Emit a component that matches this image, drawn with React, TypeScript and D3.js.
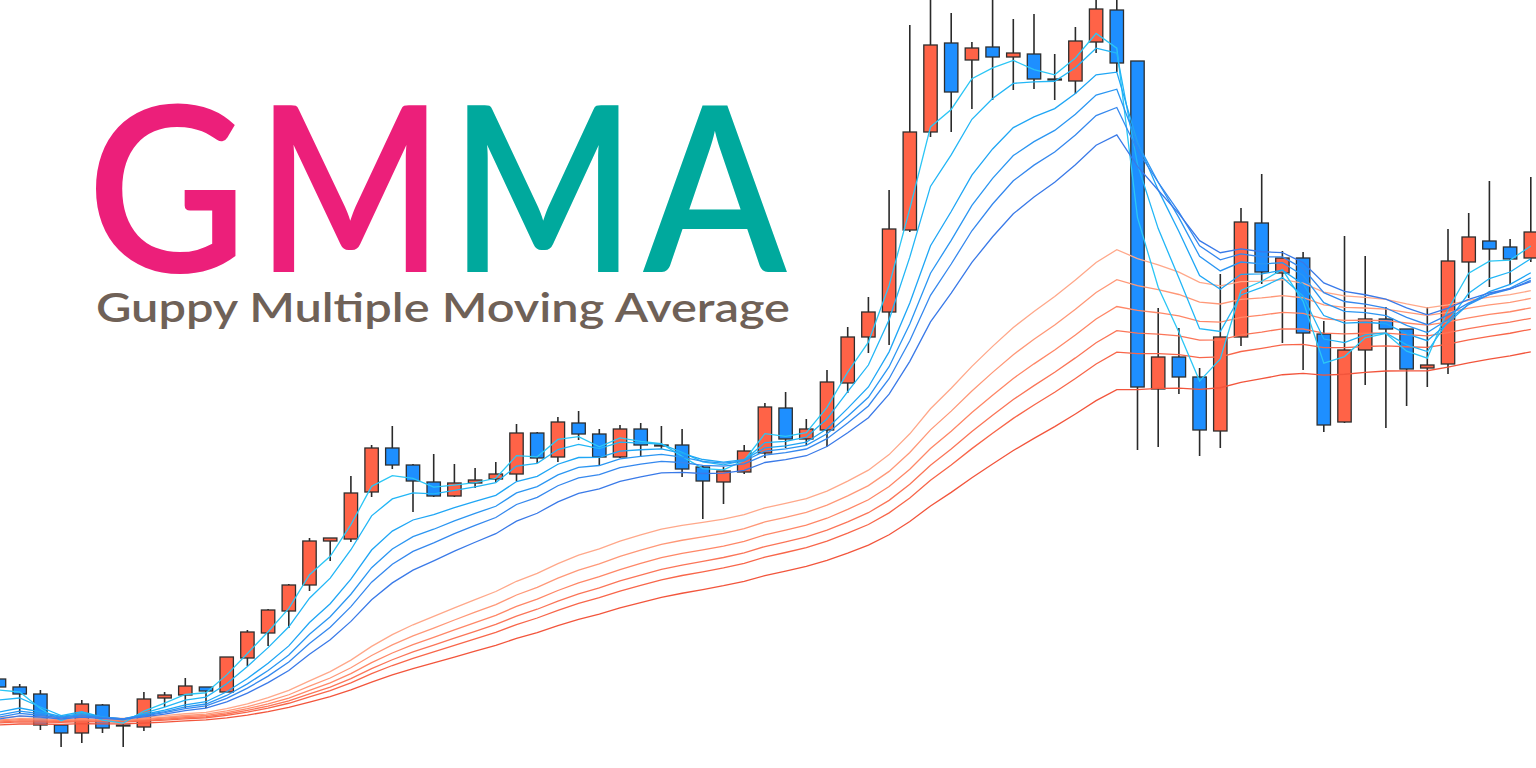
import React from "react";
import * as d3 from "d3";

// Candle prices (arbitrary price units)
const openP = [89,81,74,43,35,63,43,41,70,73,81,76,110,135,157,183,227,229,276,320,303,286,272,285,289,294,335,311,345,334,311,339,323,323,301,286,296,315,360,329,338,385,431,456,538,636,725,708,721,711,714,689,687,726,758,707,379,411,391,337,431,545,495,510,434,346,418,449,439,400,404,506,527,521,510];
const highP = [92,84,78,44,68,64,44,76,76,90,81,111,138,159,184,230,230,292,323,342,304,314,304,300,306,344,336,351,357,339,343,345,342,339,302,301,323,365,376,349,398,441,471,578,743,773,755,726,773,749,754,714,741,773,773,707,460,440,400,494,560,594,517,516,447,532,512,461,439,461,539,555,587,529,591];
const lowP = [78,55,38,21,25,35,21,37,61,60,60,76,102,122,140,177,207,226,271,299,256,271,271,280,286,287,305,306,328,302,310,311,319,291,249,264,294,310,320,323,321,375,415,423,536,631,636,659,668,678,679,668,674,715,696,318,321,374,312,320,422,484,425,398,336,345,383,340,362,381,394,470,481,483,506];
const closeP = [81,74,43,35,64,40,42,69,73,82,77,111,136,158,183,227,230,275,320,303,287,272,285,288,294,335,310,346,334,311,339,323,322,299,287,297,317,361,329,339,386,431,456,539,636,723,676,720,711,715,689,688,727,759,705,381,411,391,338,431,546,496,510,435,343,418,449,439,399,403,507,531,519,509,536];

// GMMA: short and long EMA periods, with their values at the first visible bar
const shortPeriods = [3, 5, 8, 10, 12, 15];
const longPeriods = [30, 35, 40, 45, 50, 60];
const shortSeeds = [78, 68, 56, 53, 51, 49];
const longSeeds = [50, 48, 47, 46, 45, 43];

const shortColors = ["#2cc6f5", "#22b6f6", "#1fa6f5", "#2b96f2", "#3588ee", "#3a7ae8"];
const longColors = ["#ffa88a", "#ff9878", "#ff8767", "#fb7558", "#f8664a", "#f2553c"];

const titleBig = [
  { ch: "G", color: "#ec1f7a" },
  { ch: "M", color: "#ec1f7a" },
  { ch: "M", color: "#00a99d" },
  { ch: "A", color: "#00a99d" },
];
const subtitle = "Guppy Multiple Moving Average";

const W = 1536;
const H = 768;

function ema(values: number[], period: number, seed: number): number[] {
  const k = 2 / (period + 1);
  const out: number[] = [];
  let e = seed;
  values.forEach((v, i) => {
    if (i > 0) e = e + k * (v - e);
    out.push(e);
  });
  return out;
}

export default function App() {
  const n = closeP.length;
  const x = d3.scaleLinear().domain([0, n - 1]).range([-1, 1530.8]);
  const y = d3.scaleLinear().domain([0, 768]).range([H, 0]);
  const bodyW = 13.4;

  const line = d3
    .line<number>()
    .x((_, i) => x(i))
    .y((d) => y(d))
    .curve(d3.curveLinear);

  const shortLines = shortPeriods.map((p, k) => ema(closeP, p, shortSeeds[k]));
  const longLines = longPeriods.map((p, k) => ema(closeP, p, longSeeds[k]));

  // big title letter placement (centers and horizontal squeeze)
  const letterCx = [167, 350, 543, 715];
  const letterSx = [0.95, 0.86, 0.85, 0.9];

  return (
    <svg
      width={W}
      height={H}
      viewBox={`0 0 ${W} ${H}`}
      style={{ position: "absolute", left: 0, top: 0, display: "block", background: "#fff" }}
    >
      <rect x={0} y={0} width={W} height={H} fill="#ffffff" />

      {/* title */}
      <g fontFamily="Lato, 'Open Sans', sans-serif" fontWeight={600}>
        {titleBig.map((t, i) => (
          <text
            key={i}
            transform={`translate(${letterCx[i]},272) scale(${letterSx[i]},1)`}
            textAnchor="middle"
            fontSize={232}
            fill={t.color}
          >
            {t.ch}
          </text>
        ))}
        <text
          x={96}
          y={322}
          fontSize={41}
          fill="#6f6157"
          textLength={694}
          lengthAdjust="spacingAndGlyphs"
        >
          {subtitle}
        </text>
      </g>

      {/* candles */}
      <g>
        {closeP.map((c, i) => {
          const o = openP[i];
          const up = c >= o;
          const cx = x(i);
          const top = y(Math.max(o, c));
          const bot = y(Math.min(o, c));
          return (
            <g key={i}>
              <line x1={cx} x2={cx} y1={y(highP[i])} y2={y(lowP[i])} stroke="#2a2a2a" strokeWidth={1.6} />
              <rect
                x={cx - bodyW / 2}
                y={top}
                width={bodyW}
                height={Math.max(1, bot - top)}
                fill={up ? "#ff6347" : "#1e8fff"}
                stroke="#2e2e2e"
                strokeWidth={1.3}
              />
            </g>
          );
        })}
      </g>

      {/* long EMAs */}
      <g fill="none">
        {longLines.map((vals, k) => (
          <path key={k} d={line(vals) || ""} stroke={longColors[k]} strokeWidth={1.3} />
        ))}
      </g>
      {/* short EMAs */}
      <g fill="none">
        {shortLines.map((vals, k) => (
          <path key={k} d={line(vals) || ""} stroke={shortColors[k]} strokeWidth={1.3} />
        ))}
      </g>
    </svg>
  );
}
